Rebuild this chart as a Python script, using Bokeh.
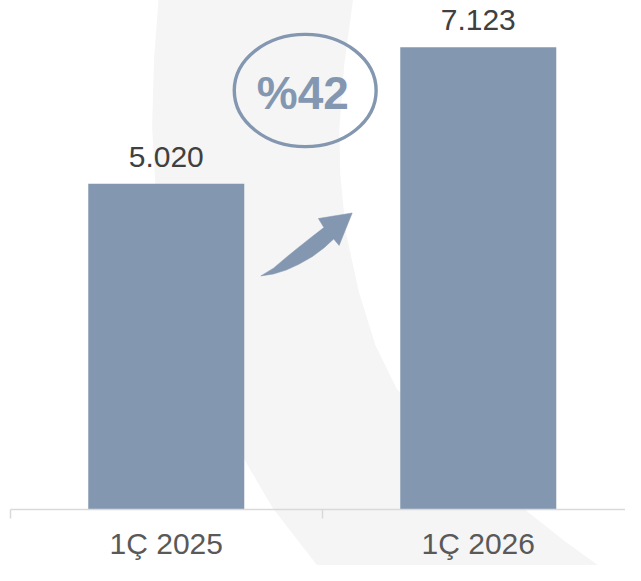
from urllib.parse import quote
from bokeh.plotting import figure
from bokeh.models import Range1d, LinearAxis, FixedTicker, ColumnDataSource
from bokeh.core.properties import value
from bokeh.embed import file_html
from bokeh.resources import INLINE

# ---- data ----
categories = ["1Ç 2025", "1Ç 2026"]
values = [5020, 7123]
labels = [f"{v:,}".replace(",", ".") for v in values]
growth = round((values[1] / values[0] - 1) * 100)

BAR = "#8497b0"
W, H = 625, 565
SX, SY = W / 641, H / 581          # reference -> figure pixel scale
FRAME_H = 509
Y_TOP = 7845                       # value at top of the frame

# reference-pixel -> data helpers for the decorations
def ux(px):
    return (px - 10) / 320.0

def uy(py):
    return (523 - py) * 15.0

xs = [i + 0.5 for i in range(len(categories))]

p = figure(width=W, height=H, output_backend="svg", toolbar_location=None,
           x_axis_type=None, y_axis_type=None,
           x_range=Range1d(ux(0), ux(641)),
           y_range=Range1d(0, Y_TOP),
           min_border_left=0, min_border_right=0, min_border_top=0,
           min_border_bottom=H - FRAME_H)
p.grid.visible = False
p.outline_line_color = None
p.border_fill_color = None
p.background_fill_color = None

# light watermark shape as CSS background (covers axis area too)
left = [(163, -5), (158, 60), (156, 130), (160, 200), (172, 290), (195, 370),
        (222, 425), (249, 470), (280, 523), (325, 581), (332, 592)]
right = [(630, 592), (613, 581), (580, 557), (542, 527), (505, 492), (470, 462),
         (437, 430), (407, 400), (385, 355), (368, 300), (355, 240), (349, 180),
         (348, 133), (353, 67), (362, 0), (363, -5)]
pts = left + right
d = "M " + " L ".join(f"{x*SX:.1f},{y*SY:.1f}" for x, y in pts) + " Z"
svg = (f'<svg xmlns="http://www.w3.org/2000/svg" width="{W}" height="{H}">'
       f'<path d="{d}" fill="#f5f5f5"/></svg>')
p.styles = {"background-image": f'url("data:image/svg+xml,{quote(svg)}")',
            "background-repeat": "no-repeat"}

src = ColumnDataSource(dict(x=xs, top=values, label=labels))
p.vbar(x="x", top="top", bottom=0, width=0.5, source=src,
       fill_color=BAR, line_color=None)
p.text(x="x", y="top", text="label", source=src, y_offset=-27,
       text_align="center", text_baseline="alphabetic",
       text_font=value("Liberation Sans"), text_font_size="30px",
       text_color="#404040")

# growth ellipse + text
p.ellipse(x=[ux(312.5)], y=[uy(92.5)], width=[145.5 * SX], height=[115.5 * SY],
          width_units="screen", height_units="screen",
          fill_color=None, line_color=BAR, line_width=3.4)
p.text(x=[ux(310)], y=[uy(112)], text=[f"%{growth}"], y_offset=-17,
       text_align="center", text_baseline="alphabetic",
       text_font=value("Liberation Sans"), text_font_style="bold",
       text_font_size="46px", text_color=BAR)

# curved arrow
arrow = [(267, 283), (280, 275), (293, 264), (304, 255), (314, 247), (323, 240),
         (331.7, 233.3), (326, 224), (360.7, 218.3), (347.3, 251.7), (341.7, 245),
         (332, 254), (320, 263), (306, 271), (293, 277), (280, 281)]
p.patch(x=[ux(a) for a, b in arrow], y=[uy(b) for a, b in arrow],
        fill_color=BAR, line_color=BAR, line_width=0.5)

# x axis
ax = LinearAxis(ticker=FixedTicker(ticks=xs, minor_ticks=list(range(len(categories) + 1))),
                bounds=(0, len(categories)))
ax.major_label_overrides = {x: c for x, c in zip(xs, categories)}
ax.axis_line_color = "#d9d9d9"
ax.axis_line_width = 1.5
ax.major_tick_line_color = None
ax.major_tick_out = 0
ax.major_tick_in = 0
ax.minor_tick_line_color = "#d9d9d9"
ax.minor_tick_line_width = 1.5
ax.minor_tick_in = 0
ax.minor_tick_out = 9
ax.major_label_standoff = 8
ax.major_label_text_font = "Liberation Sans"
ax.major_label_text_font_size = "30px"
ax.major_label_text_color = "#595959"
p.add_layout(ax, "below")

open("out.html", "w").write(file_html(p, INLINE))
